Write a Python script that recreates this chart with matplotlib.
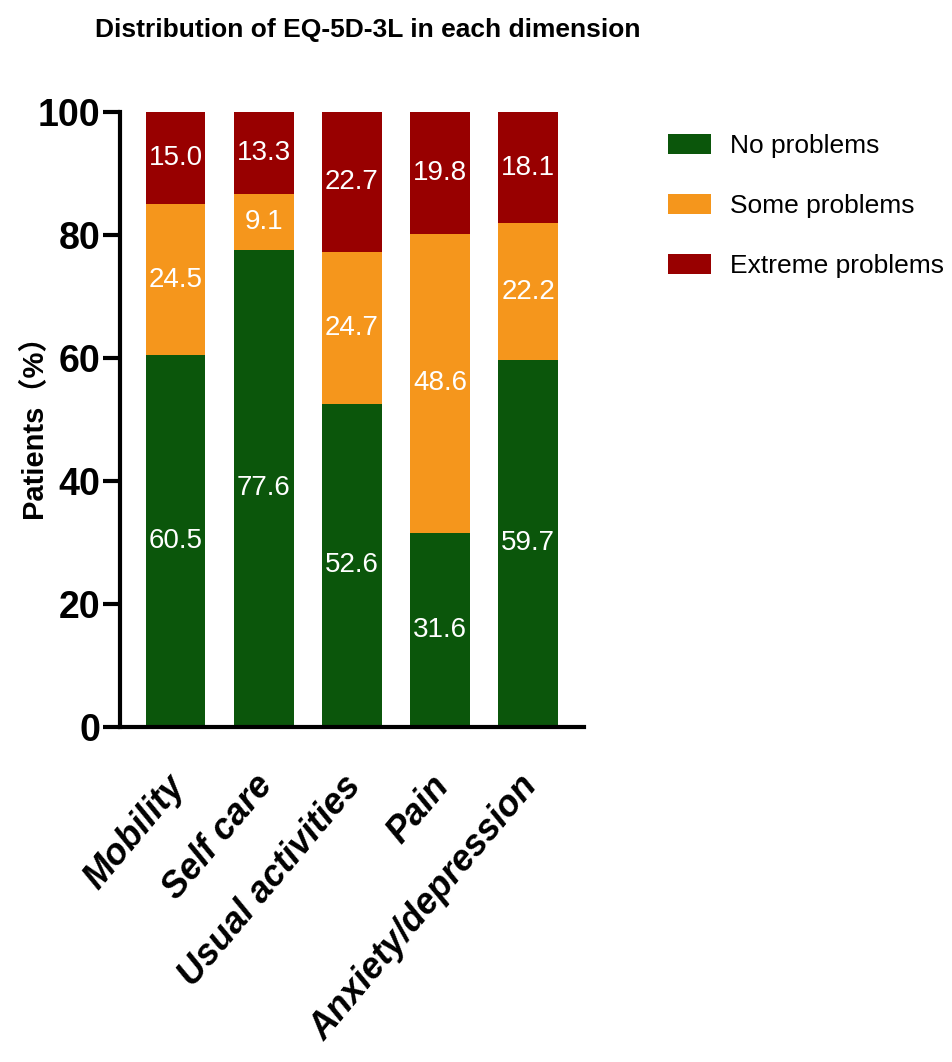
import matplotlib
matplotlib.use('Agg')
import matplotlib.pyplot as plt
from matplotlib.transforms import ScaledTranslation
import numpy as np

# EQ-5D-3L results per dimension (% of patients)
dimensions = ['Mobility', 'Self care', 'Usual activities', 'Pain', 'Anxiety/depression']
no_problems = [60.5, 77.6, 52.6, 31.6, 59.7]
some_problems = [24.5, 9.1, 24.7, 48.6, 22.2]
extreme_problems = [15.0, 13.3, 22.7, 19.8, 18.1]
levels = ['No problems', 'Some problems', 'Extreme problems']

green = '#0b560b'
orange = '#f5961c'
red = '#980000'
plt.rcParams['font.family'] = ['Liberation Sans', 'Noto Sans CJK SC', 'DejaVu Sans']

fig = plt.figure(figsize=(9.52, 10.62), dpi=100)
ax = fig.add_axes([0.126, 0.3154, 0.487, 0.5791])

x = np.arange(len(dimensions))
w = 0.68
b1 = ax.bar(x, no_problems, w, color=green, label=levels[0])
bottom2 = np.array(no_problems)
b2 = ax.bar(x, some_problems, w, bottom=bottom2, color=orange, label=levels[1])
bottom3 = bottom2 + np.array(some_problems)
b3 = ax.bar(x, extreme_problems, w, bottom=bottom3, color=red, label=levels[2])

# value labels in the middle of each segment
for vals, base in [(no_problems, np.zeros(5)), (some_problems, bottom2), (extreme_problems, bottom3)]:
    for xi, v, b0 in zip(x, vals, base):
        ax.text(xi, b0 + v / 2, f'{v:.1f}', ha='center', va='center', color='white', fontsize=20)

ax.set_xlim(-0.63, 4.63)
ax.set_ylim(0, 100)
ax.set_yticks([0, 20, 40, 60, 80, 100])
ax.set_yticklabels(['0', '20', '40', '60', '80', '100'], fontsize=27, fontweight='bold')
ax.set_xticks(x)
ax.set_xticklabels(dimensions, rotation=50, ha='right', va='top', rotation_mode='anchor',
                   fontsize=26, fontweight='bold', fontstyle='italic')
ax.tick_params(axis='x', length=0, pad=30)
ax.tick_params(axis='y', length=12, width=3, pad=2)
for lbl in ax.get_xticklabels():
    lbl.set_transform(lbl.get_transform() + ScaledTranslation(-0.10, 0, fig.dpi_scale_trans))
for s in ['top', 'right']:
    ax.spines[s].set_visible(False)
for s in ['left', 'bottom']:
    ax.spines[s].set_linewidth(3)

ax.set_ylabel('Patients（%）', fontsize=21, fontweight='bold')
ax.yaxis.set_label_coords(-0.155, 0.5)

fig.text(0.386, 0.972, 'Distribution of EQ-5D-3L in each dimension', ha='center', va='center',
         fontsize=19, fontweight='bold')

ax.legend(loc='upper left', bbox_to_anchor=(0.702, 0.874), bbox_transform=fig.transFigure,
          frameon=False, prop={'size': 19}, handlelength=1.6, handleheight=0.8,
          handletextpad=0.75, labelspacing=1.35, borderpad=0, borderaxespad=0)

fig.savefig('out.png', dpi=100)
